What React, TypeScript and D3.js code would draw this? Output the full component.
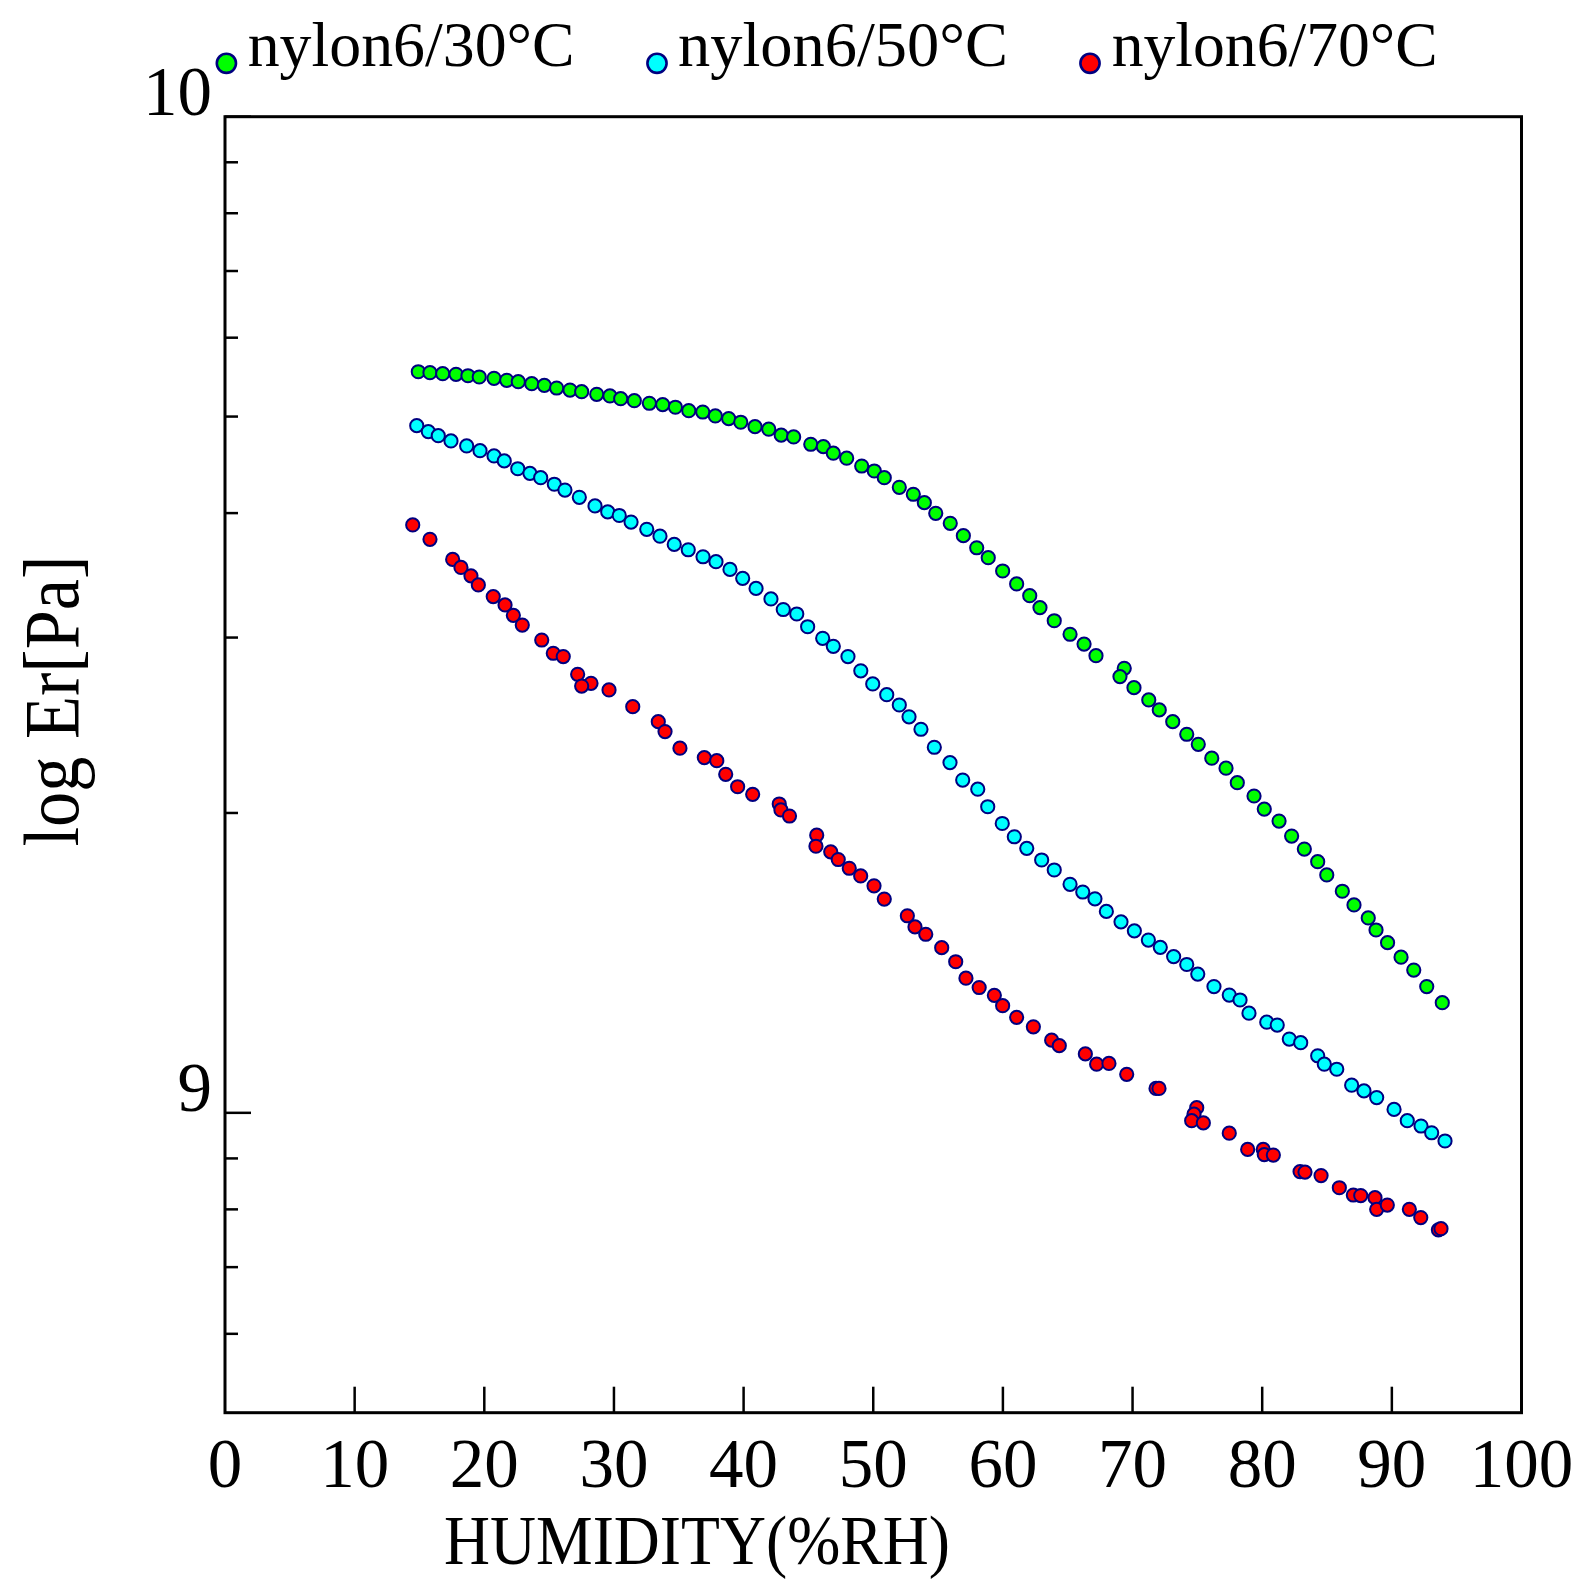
import React from "react";
import * as d3 from "d3";

// Humidity (%RH) and Er (in units of 1e9 Pa)
const humidity30 = [14.91,15.81,16.79,17.82,18.74,19.61,20.75,21.73,22.62,23.66,24.63,25.58,26.61,27.51,28.67,29.69,30.52,31.57,32.73,33.76,34.74,35.77,36.85,37.82,38.85,39.78,40.88,41.94,42.90,43.86,45.18,46.15,46.92,47.95,49.11,50.08,50.85,52.01,53.09,53.94,54.82,55.94,56.95,57.98,58.87,59.98,61.06,62.07,62.86,63.96,65.18,66.26,67.18,69.36,69.03,70.11,71.25,72.06,73.10,74.18,75.07,76.11,77.21,78.08,79.37,80.16,81.30,82.27,83.25,84.28,84.98,86.18,87.08,88.18,88.78,89.67,90.71,91.69,92.69,93.89];
const er30 = [5.546,5.534,5.521,5.513,5.495,5.479,5.462,5.437,5.420,5.395,5.374,5.341,5.316,5.296,5.264,5.244,5.211,5.187,5.156,5.140,5.109,5.068,5.053,5.007,4.976,4.935,4.885,4.856,4.790,4.770,4.690,4.664,4.594,4.541,4.460,4.409,4.341,4.246,4.178,4.098,3.998,3.907,3.797,3.692,3.608,3.499,3.396,3.305,3.215,3.119,3.023,2.955,2.877,2.794,2.741,2.672,2.597,2.538,2.470,2.399,2.344,2.270,2.218,2.145,2.080,2.018,1.963,1.896,1.840,1.787,1.733,1.669,1.617,1.569,1.526,1.482,1.433,1.391,1.339,1.290];

const humidity50 = [14.79,15.68,16.45,17.43,18.64,19.67,20.75,21.54,22.58,23.52,24.35,25.40,26.22,27.33,28.54,29.52,30.41,31.32,32.53,33.55,34.65,35.73,36.87,37.87,38.95,39.93,40.96,42.11,43.06,44.10,44.94,46.10,46.92,48.05,49.04,49.96,51.04,52.01,52.76,53.68,54.71,55.92,56.90,58.06,58.83,59.95,60.88,61.84,62.99,63.96,65.18,66.16,67.10,67.98,69.11,70.14,71.22,72.14,73.17,74.18,75.03,76.28,77.46,78.29,78.98,80.35,81.16,82.09,82.97,84.28,84.79,85.75,86.90,87.85,88.83,90.17,91.19,92.25,93.07,94.10];
const er50 = [4.896,4.829,4.784,4.726,4.672,4.621,4.565,4.513,4.432,4.385,4.341,4.276,4.219,4.149,4.067,4.011,3.978,3.918,3.853,3.792,3.721,3.675,3.616,3.575,3.512,3.440,3.361,3.280,3.201,3.168,3.076,2.995,2.940,2.871,2.778,2.695,2.629,2.567,2.498,2.427,2.328,2.247,2.158,2.113,2.029,1.952,1.893,1.843,1.794,1.753,1.696,1.666,1.640,1.593,1.555,1.523,1.491,1.466,1.435,1.409,1.378,1.339,1.313,1.298,1.259,1.233,1.225,1.186,1.176,1.141,1.119,1.106,1.066,1.052,1.036,1.008,0.982,0.970,0.955,0.937];

const humidity70 = [14.48,15.81,17.56,18.20,18.97,19.54,20.69,21.60,22.24,22.93,24.43,25.32,26.09,27.20,28.23,27.51,29.62,31.45,33.42,33.94,35.09,36.97,37.93,38.62,39.54,40.70,42.75,42.88,43.54,45.64,45.58,46.72,47.30,48.15,49.03,50.06,50.85,52.63,53.22,54.05,55.28,56.36,57.15,58.17,59.34,59.98,61.06,62.35,63.76,64.35,66.36,67.23,68.18,69.55,71.81,72.04,74.95,74.74,74.56,75.46,77.46,78.88,80.08,80.16,80.86,82.92,83.30,84.54,85.95,87.03,87.60,88.70,88.83,89.65,91.35,92.23,93.59,93.79];
const er70 = [3.892,3.765,3.594,3.528,3.460,3.388,3.298,3.235,3.158,3.088,2.983,2.893,2.871,2.756,2.699,2.682,2.658,2.557,2.470,2.414,2.323,2.273,2.257,2.187,2.125,2.088,2.042,2.014,1.986,1.900,1.852,1.828,1.796,1.760,1.729,1.690,1.639,1.577,1.537,1.511,1.465,1.418,1.365,1.336,1.312,1.281,1.247,1.220,1.183,1.168,1.146,1.119,1.121,1.093,1.058,1.058,1.012,0.997,0.982,0.977,0.954,0.919,0.919,0.908,0.907,0.873,0.872,0.865,0.841,0.827,0.826,0.822,0.800,0.808,0.800,0.785,0.763,0.765];

const seriesNames = ["nylon6/30°C", "nylon6/50°C", "nylon6/70°C"];
const seriesColors = ["#00ff00", "#00ffff", "#ff0000"];

const xTicks = [0, 10, 20, 30, 40, 50, 60, 70, 80, 90, 100];
const yMajorTicks = [1e9, 1e10];
const yMajorLabels = ["9", "10"];
const yMinorTicks = [6e8, 7e8, 8e8, 9e8, 2e9, 3e9, 4e9, 5e9, 6e9, 7e9, 8e9, 9e9];

const FONT = "'Liberation Serif', 'Times New Roman', serif";

export default function App() {
  const left = 225, right = 1521.5, top = 116.7, bottom = 1412.7;
  const x = d3.scaleLinear().domain([0, 100]).range([left, right]);
  const y = d3.scaleLog().domain([5e8, 1e10]).range([bottom, top]);

  const series = [
    { h: humidity30, e: er30 },
    { h: humidity50, e: er50 },
    { h: humidity70, e: er70 },
  ];

  const legendMarkerX = [226.4, 657, 1090];
  const legendTextX = [247.7, 678, 1111.7];
  const legendTextW = [327, 330, 326];

  return (
    <svg width={1582} height={1581} style={{ position: "absolute", left: 0, top: 0, background: "#fff" }}>
      <rect x={0} y={0} width={1582} height={1581} fill="#fff" />
      {/* plot frame */}
      <rect x={left} y={top} width={right - left} height={bottom - top} fill="none" stroke="#000" strokeWidth={3} />
      {/* x ticks */}
      {xTicks.filter((t) => t > 0 && t < 100).map((t) => (
        <line key={"xt" + t} x1={x(t)} x2={x(t)} y1={bottom} y2={bottom - 26} stroke="#000" strokeWidth={2.5} />
      ))}
      {xTicks.map((t) => (
        <text key={"xl" + t} x={x(t)} y={1487} textAnchor="middle" fontFamily={FONT} fontSize={69} fill="#000">
          {t}
        </text>
      ))}
      {/* y ticks */}
      {yMinorTicks.map((t) => (
        <line key={"ym" + t} x1={left} x2={left + 13} y1={y(t)} y2={y(t)} stroke="#000" strokeWidth={2.5} />
      ))}
      {yMajorTicks.map((t, i) => (
        <g key={"yM" + t}>
          <line x1={left} x2={left + 26} y1={y(t)} y2={y(t)} stroke="#000" strokeWidth={2.5} />
          <text x={212} y={y(t) - 2} textAnchor="end" fontFamily={FONT} fontSize={69} fill="#000">
            {yMajorLabels[i]}
          </text>
        </g>
      ))}
      {/* axis titles */}
      <text x={444} y={1564} fontFamily={FONT} fontSize={69} fill="#000" textLength={506} lengthAdjust="spacingAndGlyphs">
        HUMIDITY(%RH)
      </text>
      <text
        transform="translate(78,701) rotate(-90)"
        textAnchor="middle"
        fontFamily={FONT}
        fontSize={78}
        fill="#000"
        textLength={291}
        lengthAdjust="spacingAndGlyphs"
      >
        log Er[Pa]
      </text>
      {/* data */}
      {series.map((s, si) => (
        <g key={"s" + si}>
          {s.h.slice(0, Math.min(s.h.length, s.e.length)).map((h, i) => (
            <circle
              key={i}
              cx={x(h)}
              cy={y(s.e[i] * 1e9)}
              r={6.6}
              fill={seriesColors[si]}
              stroke="#000080"
              strokeWidth={2}
            />
          ))}
        </g>
      ))}
      {/* legend */}
      {seriesNames.map((n, i) => (
        <g key={"lg" + i}>
          <circle cx={legendMarkerX[i]} cy={63.3} r={9.6} fill={seriesColors[i]} stroke="#000080" strokeWidth={2.6} />
          <text
            x={legendTextX[i]}
            y={66}
            fontFamily={FONT}
            fontSize={64}
            fill="#000"
            textLength={legendTextW[i]}
            lengthAdjust="spacingAndGlyphs"
          >
            {n}
          </text>
        </g>
      ))}
    </svg>
  );
}
